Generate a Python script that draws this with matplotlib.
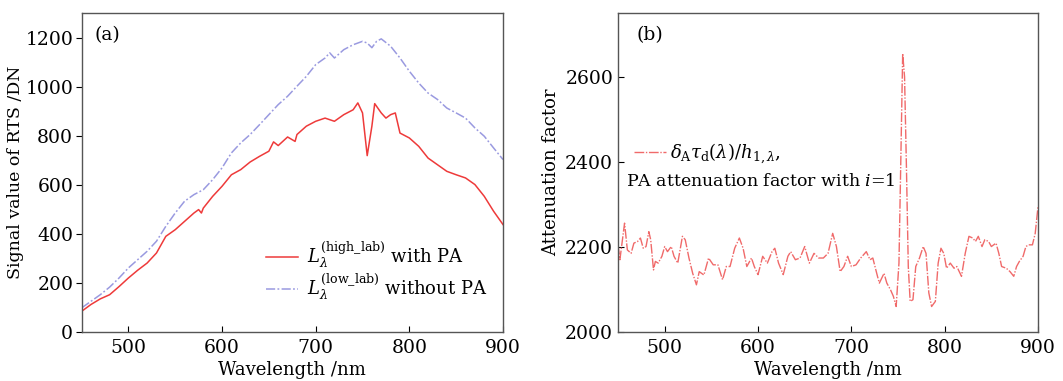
import matplotlib
matplotlib.use("Agg")
import matplotlib.pyplot as plt

plt.rcParams['font.family'] = 'DejaVu Serif'
plt.rcParams['mathtext.fontset'] = 'dejavuserif'

# ---- panel (a): RTS signal ----
wl_a = [450, 460, 470, 480, 490, 500, 510, 520, 530, 540, 550, 560, 570, 575, 578,
        580, 590, 600, 610, 620, 630, 640, 650, 655, 660, 670, 678, 680, 690, 700,
        710, 720, 730, 740, 745, 750, 755, 760, 763, 770, 775, 780, 785, 790, 800,
        810, 820, 830, 840, 850, 860, 870, 880, 890, 900]
with_pa = [84, 112, 135, 152, 185, 220, 252, 281, 322, 390, 417, 451, 485, 499, 485,
           505, 553, 594, 641, 662, 693, 716, 737, 775, 760, 795, 777, 805, 839, 859,
           872, 859, 886, 906, 934, 893, 719, 839, 931, 893, 872, 886, 893, 811, 791,
           757, 709, 682, 655, 641, 628, 601, 553, 492, 438]

wl_b = [450, 460, 470, 480, 490, 500, 510, 520, 530, 540, 550, 560, 570, 580, 590,
        600, 610, 620, 630, 640, 650, 660, 670, 680, 690, 700, 710, 715, 720, 730,
        740, 750, 755, 760, 765, 770, 780, 790, 800, 810, 820, 830, 840, 850, 860,
        870, 880, 890, 900]
without_pa = [98, 125, 152, 183, 220, 261, 295, 329, 370, 431, 485, 533, 560, 580, 621,
              669, 730, 771, 805, 845, 886, 927, 961, 1002, 1042, 1090, 1117, 1138, 1117, 1151,
              1171, 1185, 1178, 1159, 1185, 1195, 1165, 1117, 1063, 1015, 974, 948, 913, 893, 872,
              832, 798, 750, 703]

# ---- panel (b): attenuation factor ----
wl_c = [450, 452, 457, 460, 464, 467, 471, 474, 477, 480, 483, 485, 488, 490, 493,
        497, 500, 503, 507, 510, 514, 519, 522, 526, 530, 534, 537, 542, 547, 552,
        557, 562, 566, 570, 575, 580, 584, 588, 593, 596, 600, 605, 610, 615, 618,
        622, 627, 632, 635, 640, 645, 650, 655, 660, 665, 670, 675, 680, 684, 688,
        692, 696, 700, 705, 710, 716, 720, 723, 728, 730, 735, 738, 742, 745, 748,
        751, 753, 755, 757, 759, 761, 763, 766, 769, 773, 777, 780, 783, 786, 790,
        793, 796, 799, 802, 806, 810, 813, 818, 822, 826, 830, 833, 836, 840, 843,
        847, 850, 855, 858, 861, 866, 870, 874, 877, 880, 884, 887, 890, 894, 897,
        900]
atten = [2205, 2170, 2256, 2193, 2185, 2209, 2213, 2221, 2197, 2201, 2236, 2217, 2146, 2166, 2162,
         2178, 2201, 2189, 2201, 2178, 2162, 2225, 2217, 2174, 2138, 2111, 2142, 2134, 2174, 2158,
         2158, 2123, 2154, 2154, 2197, 2221, 2197, 2154, 2174, 2154, 2135, 2178, 2162, 2189, 2197,
         2162, 2135, 2178, 2189, 2170, 2174, 2201, 2162, 2185, 2174, 2174, 2185, 2232, 2201, 2142,
         2154, 2178, 2154, 2158, 2174, 2189, 2170, 2174, 2131, 2115, 2138, 2115, 2099, 2084, 2060,
         2162, 2405, 2655, 2600, 2389, 2154, 2072, 2076, 2154, 2174, 2201, 2185, 2092, 2060, 2072,
         2162, 2197, 2185, 2150, 2162, 2150, 2154, 2131, 2185, 2225, 2221, 2213, 2225, 2201, 2217,
         2213, 2201, 2209, 2185, 2154, 2150, 2142, 2131, 2154, 2166, 2178, 2201, 2205, 2205, 2232,
         2295]

fig = plt.figure(figsize=(10.63, 3.81), dpi=100)
ax1 = fig.add_axes([0.0767, 0.1286, 0.3965, 0.837])
ax2 = fig.add_axes([0.5814, 0.1286, 0.3951, 0.837])

ax1.plot(wl_a, with_pa, color='#ee3a3a', lw=1.1,
         label=r'$L_{\lambda}^{(\mathrm{high\_lab})}$ with PA')
ax1.plot(wl_b, without_pa, color='#9a9ae0', lw=1.1, ls=(0, (6, 1.5, 1.2, 1.5)),
         label=r'$L_{\lambda}^{(\mathrm{low\_lab})}$ without PA')
ax1.set_xlim(450, 900)
ax1.set_ylim(0, 1300)
ax1.set_xticks([500, 600, 700, 800, 900])
ax1.set_yticks(range(0, 1201, 200))
ax1.tick_params(axis='x', direction='in', length=4, labelsize=13.5, pad=5)
ax1.tick_params(axis='y', direction='out', length=4, labelsize=13.5, pad=2)
ax1.set_xlabel('Wavelength /nm', fontsize=13, labelpad=3)
ax1.set_ylabel('Signal value of RTS /DN', fontsize=12.5, labelpad=1)
ax1.text(0.03, 0.96, '(a)', transform=ax1.transAxes, fontsize=13.5, va='top')
ax1.legend(loc='lower right', bbox_to_anchor=(0.99, 0.06), frameon=False, fontsize=13,
           handlelength=1.8, handletextpad=0.5, labelspacing=0.1, borderaxespad=0.2)

ax2.plot(wl_c, atten, color='#f06a6a', lw=1.0, ls=(0, (7, 1.2, 1, 1.2)),
         label=r'$\delta_{\mathrm{A}}\tau_{\mathrm{d}}(\lambda)/h_{1,\lambda}$,')
ax2.set_xlim(450, 900)
ax2.set_ylim(2000, 2750)
ax2.set_xticks([500, 600, 700, 800, 900])
ax2.set_yticks([2000, 2200, 2400, 2600])
ax2.tick_params(axis='x', direction='in', length=4, labelsize=13.5, pad=5)
ax2.tick_params(axis='y', direction='in', length=4, labelsize=13.5)
ax2.set_xlabel('Wavelength /nm', fontsize=13, labelpad=3)
ax2.set_ylabel('Attenuation factor', fontsize=13, labelpad=4)
ax2.text(0.045, 0.96, '(b)', transform=ax2.transAxes, fontsize=13.5, va='top')
ax2.legend(loc='upper left', bbox_to_anchor=(0.02, 0.62), frameon=False, fontsize=13,
           handlelength=1.8, handletextpad=0.2, borderaxespad=0.0)
ax2.text(0.02, 0.50, r'PA attenuation factor with $i$=1', transform=ax2.transAxes,
         fontsize=12.5, va='top')

for ax in (ax1, ax2):
    for s in ax.spines.values():
        s.set_color('#555555')
        s.set_linewidth(1.0)

fig.savefig('out.png', dpi=100)
